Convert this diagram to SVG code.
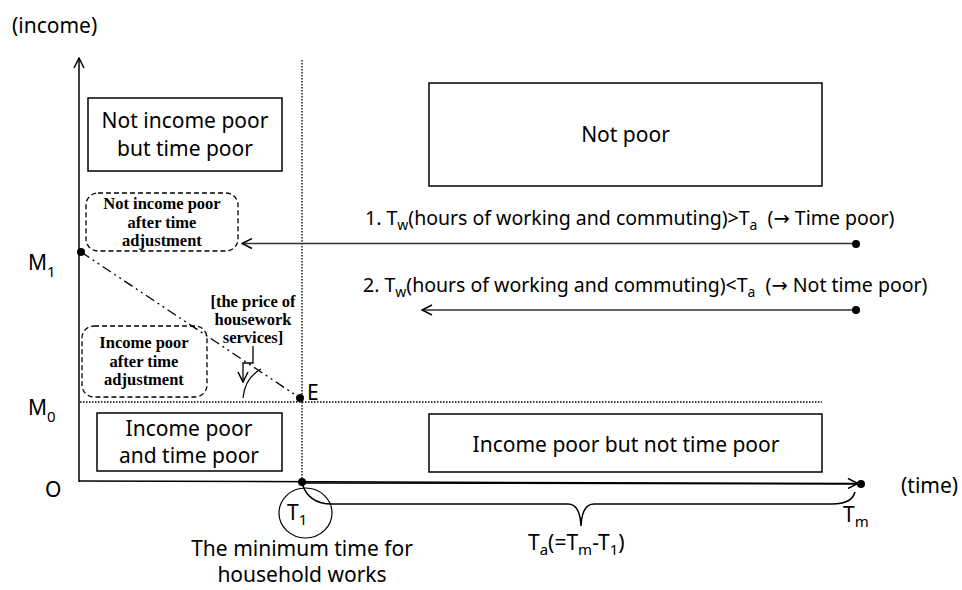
<svg xmlns="http://www.w3.org/2000/svg" width="962" height="590" viewBox="0 0 962 590">
<defs>
<style>
.t{font-family:"Noto Sans","Open Sans",sans-serif;font-size:21px;fill:#000}
.t2{font-family:"Noto Sans","Open Sans",sans-serif;font-size:19.5px;fill:#000}
.ar{font-family:"DejaVu Sans",sans-serif}
.s{font-family:"Liberation Serif","Times New Roman",serif;font-size:16.5px;font-weight:bold;fill:#000}
.box{fill:#fff;stroke:#000;stroke-width:1.5}
.dbox{fill:none;stroke:#000;stroke-width:1.3;stroke-dasharray:5 3}
.ln{fill:none;stroke:#000;stroke-width:1.5}
.dot{fill:none;stroke:#000;stroke-width:1.3;stroke-dasharray:1.5 1.5}
</style>
<marker id="ah" viewBox="0 0 12 12" refX="11" refY="6" markerWidth="12" markerHeight="12" markerUnits="userSpaceOnUse" orient="auto">
<path d="M1,1 L11,6 L1,11" fill="none" stroke="#000" stroke-width="1.5"/>
</marker>
</defs>
<rect width="962" height="590" fill="#fff"/>

<g id="axes">
<line class="ln" x1="79" y1="482" x2="79" y2="58" marker-end="url(#ah)"/>
<line class="ln" x1="79" y1="481" x2="858" y2="483.5" marker-end="url(#ah)"/>
<line class="ln" x1="302" y1="483" x2="858" y2="484" stroke-width="2"/>
<line class="dot" x1="302" y1="60" x2="302" y2="483"/>
<line class="dot" x1="80" y1="402" x2="822" y2="402"/>
<text class="t" x="12" y="33">(income)</text>
<text class="t" x="901" y="493">(time)</text>
<text class="t" x="45" y="497">O</text>
<text class="t" x="28" y="270">M<tspan dy="7" font-size="15">1</tspan></text>
<text class="t" x="28" y="415">M<tspan dy="7" font-size="15">0</tspan></text>
<text class="t" x="307" y="400">E</text>
</g>

<g id="node-not-income-poor-time-poor">
<rect class="box" x="88" y="98" width="194" height="73"/>
<text class="t" x="185" y="128" text-anchor="middle">Not income poor</text>
<text class="t" x="185" y="156" text-anchor="middle">but time poor</text>
</g>

<g id="node-not-poor">
<rect class="box" x="429" y="83" width="393" height="103"/>
<text class="t" x="625.5" y="142" text-anchor="middle">Not poor</text>
</g>

<g id="node-income-poor-time-poor">
<rect class="box" x="97" y="413" width="185" height="58"/>
<text class="t" x="189" y="436" text-anchor="middle">Income poor</text>
<text class="t" x="189" y="463" text-anchor="middle">and time poor</text>
</g>

<g id="node-income-poor-not-time-poor">
<rect class="box" x="429" y="414" width="393" height="58"/>
<text class="t" x="626" y="452" text-anchor="middle">Income poor but not time poor</text>
</g>

<g id="node-not-income-poor-adj">
<rect class="dbox" x="86" y="193" width="152" height="58" rx="12"/>
<text class="s" x="162" y="209" text-anchor="middle">Not income poor</text>
<text class="s" x="162" y="228" text-anchor="middle">after time</text>
<text class="s" x="162" y="246" text-anchor="middle">adjustment</text>
</g>

<g id="node-income-poor-adj">
<rect class="dbox" x="82" y="326" width="125" height="71" rx="12"/>
<text class="s" x="144" y="348" text-anchor="middle">Income poor</text>
<text class="s" x="144" y="367" text-anchor="middle">after time</text>
<text class="s" x="144" y="385" text-anchor="middle">adjustment</text>
</g>

<g id="node-price">
<text class="s" x="253" y="307" text-anchor="middle">[the price of</text>
<text class="s" x="253" y="325" text-anchor="middle">housework</text>
<text class="s" x="253" y="343" text-anchor="middle">services]</text>
</g>

<g id="node-T1">
<ellipse cx="305.5" cy="513" rx="26.5" ry="25" fill="none" stroke="#000" stroke-width="1.2"/>
<text class="t" x="287" y="520">T<tspan dy="5" font-size="15">1</tspan></text>
<text class="t" x="302" y="556" text-anchor="middle">The minimum time for</text>
<text class="t" x="302" y="582" text-anchor="middle">household works</text>
</g>

<g id="labels">
<text class="t" x="843" y="522">T<tspan dy="5" font-size="15">m</tspan></text>
<text class="t" x="528" y="550">T<tspan dy="5" font-size="15">a</tspan><tspan dy="-5">(=T</tspan><tspan dy="5" font-size="15">m</tspan><tspan dy="-5">-T</tspan><tspan dy="5" font-size="15">1</tspan><tspan dy="-5">)</tspan></text>
<text class="t2" x="365" y="225" xml:space="preserve">1. T<tspan dy="5" font-size="14">w</tspan><tspan dy="-5">(hours of working and commuting)&gt;T</tspan><tspan dy="5" font-size="14">a</tspan><tspan dy="-5">  (</tspan><tspan class="ar">→</tspan> Time poor)</text>
<text class="t2" x="363" y="292" xml:space="preserve">2. T<tspan dy="5" font-size="14">w</tspan><tspan dy="-5">(hours of working and commuting)&lt;T</tspan><tspan dy="5" font-size="14">a</tspan><tspan dy="-5">  (</tspan><tspan class="ar">→</tspan> Not time poor)</text>
</g>

<g id="connectors">
<line x1="856" y1="243.5" x2="242" y2="243.5" stroke="#333" stroke-width="1.6" marker-end="url(#ah)"/>
<line x1="856" y1="310" x2="422" y2="310" stroke="#333" stroke-width="1.6" marker-end="url(#ah)"/>
<circle cx="856" cy="244" r="4" fill="#000"/>
<circle cx="856" cy="310" r="4" fill="#000"/>
<line x1="81" y1="252" x2="300" y2="398" stroke="#000" stroke-width="1.3" stroke-dasharray="10 4 2 4 2 4"/>
<circle cx="81" cy="252" r="4" fill="#000"/>
<circle cx="300" cy="398" r="4" fill="#000"/>
<circle cx="302" cy="482" r="4" fill="#000"/>
<circle cx="861" cy="484" r="4" fill="#000"/>
<polyline points="253,346 253,363 243,363 243,382" fill="none" stroke="#000" stroke-width="1.3" marker-end="url(#ah)"/>
<path d="M243,398 Q245,378 261,369" fill="none" stroke="#000" stroke-width="1.2"/>
<path d="M302,483 Q308,504 332,504 L568,504 Q580,504 581,526 Q582,504 594,504 L832,504 Q852,504 855,492" fill="none" stroke="#000" stroke-width="1.5"/>
</g>
</svg>
